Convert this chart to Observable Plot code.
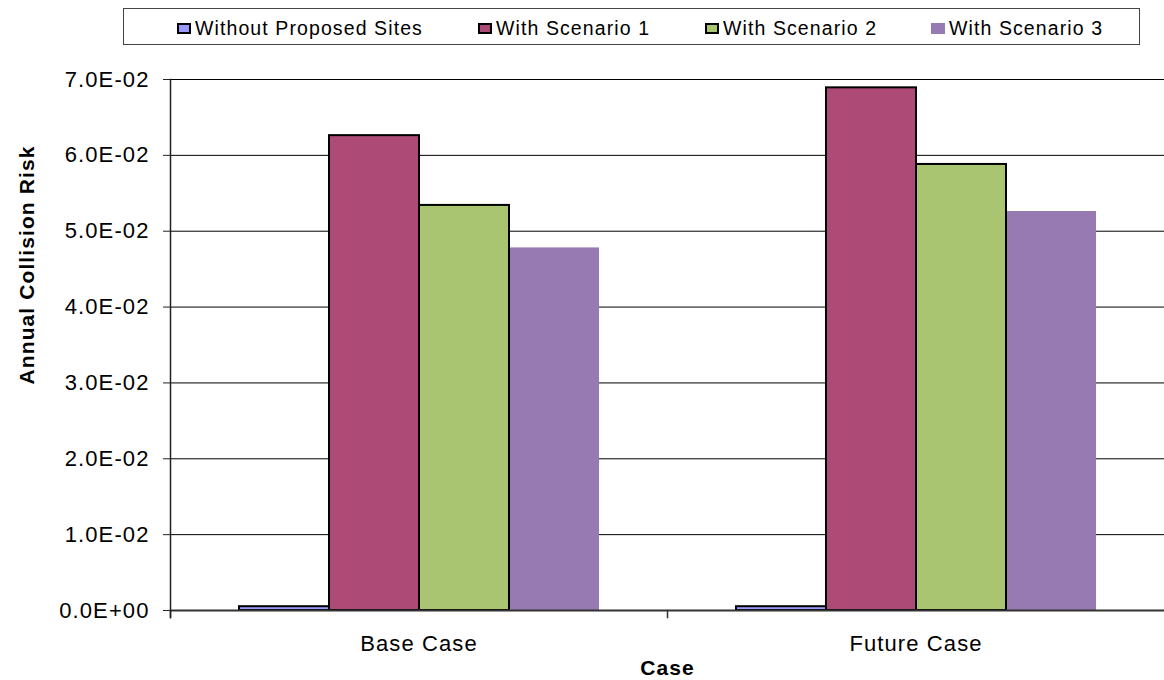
<!DOCTYPE html>
<html>
<head>
<meta charset="utf-8">
<script src="https://cdn.jsdelivr.net/npm/d3@7"></script>
<script src="https://cdn.jsdelivr.net/npm/@observablehq/plot@0.6"></script>
<style>
  html, body { margin: 0; padding: 0; background: #fff; }
  body { width: 1164px; height: 680px; overflow: hidden; font-family: "Liberation Sans", Arial, sans-serif; }
  #legend { position: relative; width: 1164px; height: 56px; }
  #legend .box { position: absolute; left: 123px; top: 8px; width: 1015px; height: 35px; border: 1px solid #444; box-sizing: content-box; }
  #legend .sw { position: absolute; top: 23px; width: 14px; height: 11px; box-sizing: border-box; }
  #legend .lab { position: absolute; top: 15px; font-size: 19.5px; line-height: 26px; letter-spacing: 1.1px; color: #000; white-space: nowrap; }
  #chart svg text { letter-spacing: 1.1px; }
</style>
</head>
<body>
<div id="legend"><div class="box"></div></div>
<div id="chart"></div>
<script>
const cases = ["Base Case", "Future Case"];
const series = ["Without Proposed Sites", "With Scenario 1", "With Scenario 2", "With Scenario 3"];
const baseValues = [0.0005, 0.0626, 0.0534, 0.0478];
const futureValues = [0.0005, 0.0689, 0.0588, 0.0526];
const colors = ["#9999FF", "#AD4A76", "#A9C572", "#967AB1"];
const outlined = [true, true, true, false];
const yTicks = [0, 0.01, 0.02, 0.03, 0.04, 0.05, 0.06, 0.07];
const legendLeft = [177, 478, 705, 931];
const yTitle = "Annual Collision Risk";
const xTitle = "Case";

const valuesByCase = [baseValues, futureValues];
const data = [];
cases.forEach((c, ci) => series.forEach((s, si) => data.push({case: c, series: s, value: valuesByCase[ci][si], outlined: outlined[si]})));

const fmt = v => {
  const [m, e] = v.toExponential(1).split("e");
  const sign = e[0] === "-" ? "-" : "+";
  return `${m}E${sign}${String(Math.abs(+e)).padStart(2, "0")}`;
};

// legend
const legend = document.getElementById("legend");
series.forEach((s, i) => {
  const sw = document.createElement("div");
  sw.className = "sw";
  sw.style.left = legendLeft[i] + "px";
  sw.style.background = colors[i];
  sw.style.border = outlined[i] ? "2px solid #000" : "none";
  legend.appendChild(sw);
  const lab = document.createElement("div");
  lab.className = "lab";
  lab.style.left = (legendLeft[i] + 18) + "px";
  lab.textContent = s;
  legend.appendChild(lab);
});

const W = 1164, H = 624, mT = 23, mB = 70, mL = 169, mR = 0;
const plotH = H - mT - mB;

const chart = Plot.plot({
  width: W,
  height: H,
  marginTop: mT,
  marginBottom: mB,
  marginLeft: mL,
  marginRight: mR,
  style: {fontFamily: "'Liberation Sans', Arial, sans-serif", fontSize: "21px", color: "#000", background: "#fff"},
  fx: {domain: cases, padding: 0},
  x: {domain: series, paddingInner: 0, paddingOuter: 0.733, axis: null},
  y: {domain: [0, 0.07]},
  color: {domain: series, range: colors},
  marks: [
    Plot.gridY(yTicks, {stroke: "#000", strokeOpacity: 1, strokeWidth: 1}),
    Plot.barY(data.filter(d => !d.outlined), {fx: "case", x: "series", y: "value", fill: "series"}),
    Plot.barY(data.filter(d => d.outlined), {fx: "case", x: "series", y: "value", fill: "series", stroke: "#000", strokeWidth: 2}),
    Plot.ruleY([0], {stroke: "#333", strokeWidth: 2}),
    Plot.frame({anchor: "left", insetTop: plotH, insetBottom: -7, stroke: "#333", strokeWidth: 1.5}),
    Plot.frame({anchor: "left", facet: "super", insetBottom: -7, stroke: "#222", strokeWidth: 1.5}),
    Plot.axisY({ticks: yTicks, tickFormat: fmt, tickSize: 7, tickPadding: 14, fontSize: 22, label: null, stroke: "#222"}),
    Plot.axisFx({anchor: "bottom", tickSize: 0, tickPadding: 25, fontSize: 22, label: null}),
    Plot.text([xTitle], {facet: "super", frameAnchor: "bottom", dy: 64, text: d => d, fontWeight: "bold", fontSize: 21, fill: "#000"}),
    Plot.text([yTitle], {facet: "super", frameAnchor: "left", textAnchor: "middle", dx: -143, dy: -80, rotate: -90, text: d => d, fontWeight: "bold", fontSize: 21, fill: "#000"})
  ]
});
document.getElementById("chart").appendChild(chart);
</script>
</body>
</html>
